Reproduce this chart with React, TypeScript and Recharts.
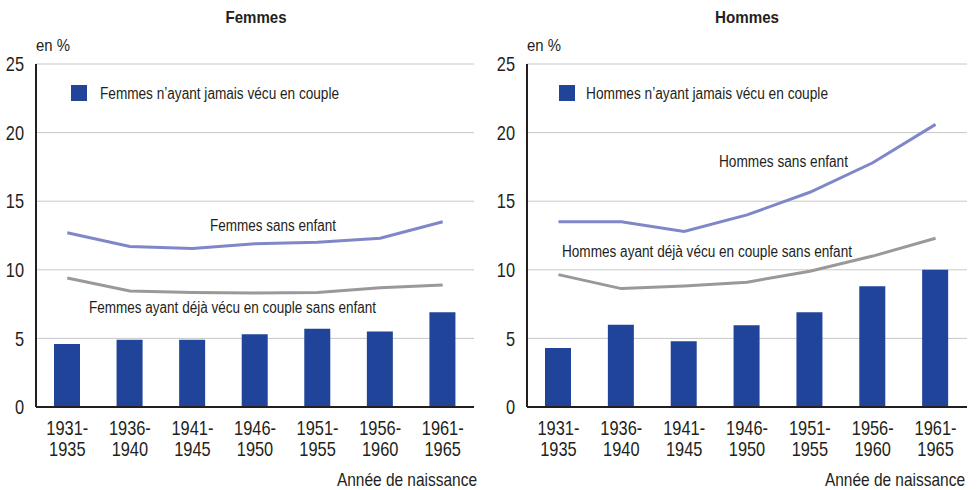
import React from 'react';
import {
  ComposedChart,
  Bar,
  Line,
  XAxis,
  YAxis,
  CartesianGrid,
  Legend,
} from 'recharts';

// Birth cohorts (x axis)
const cohorts = ['1931-1935', '1936-1940', '1941-1945', '1946-1950', '1951-1955', '1956-1960', '1961-1965'];

// Femmes
const femmesJamaisCouple = [4.6, 4.9, 4.9, 5.3, 5.7, 5.5, 6.9];
const femmesSansEnfant = [12.7, 11.7, 11.55, 11.9, 12.0, 12.3, 13.5];
const femmesDejaCoupleSansEnfant = [9.4, 8.45, 8.35, 8.3, 8.35, 8.7, 8.9];

// Hommes
const hommesJamaisCouple = [4.3, 6.0, 4.8, 5.95, 6.9, 8.8, 10.0];
const hommesSansEnfant = [13.5, 13.5, 12.8, 14.0, 15.65, 17.8, 20.6];
const hommesDejaCoupleSansEnfant = [9.65, 8.63, 8.82, 9.1, 9.9, 11.0, 12.3];

const yTicks = [0, 5, 10, 15, 20, 25];

// no condensed font installed, so text is squeezed horizontally
const FONT = '"Liberation Sans", Arial, sans-serif';
const SQUEEZE = 0.82;
const BAR_COLOR = '#1f4499';
const LINE_PURPLE = '#7f87c9';
const LINE_GRAY = '#999999';
const AXIS_COLOR = '#231f20';
const TEXT_COLOR = '#231f20';

const buildRows = (bars: number[], total: number[], past: number[]) =>
  cohorts.map((c, i) => ({ cohort: c, bar: bars[i], total: total[i], past: past[i] }));

const femmesData = buildRows(femmesJamaisCouple, femmesSansEnfant, femmesDejaCoupleSansEnfant);
const hommesData = buildRows(hommesJamaisCouple, hommesSansEnfant, hommesDejaCoupleSansEnfant);

const CohortTick = ({ x, y, payload }: any) => {
  const [a, b] = String(payload.value).split('-');
  return (
    <g transform={`translate(${x},${y}) scale(${SQUEEZE},1)`}>
      <text x={0} y={20} textAnchor="middle" fill={TEXT_COLOR} fontSize={20} fontFamily={FONT}>{a + '-'}</text>
      <text x={0} y={41} textAnchor="middle" fill={TEXT_COLOR} fontSize={20} fontFamily={FONT}>{b}</text>
    </g>
  );
};

const ValueTick = ({ x, y, payload }: any) => (
  <text
    transform={`translate(${x},${y}) scale(${SQUEEZE},1)`}
    textAnchor="end"
    dy="0.355em"
    fill={TEXT_COLOR}
    fontSize={20}
    fontFamily={FONT}
  >
    {payload.value}
  </text>
);

const makeLegend = (label: string, gap: number, textWidth: number) => () => (
  <svg width={360} height={22} style={{ display: 'block', overflow: 'visible' }}>
    <rect x={0} y={0} width={16} height={16} fill={BAR_COLOR} />
    <text x={gap} y={14} fontSize={16} fontFamily={FONT} fill={TEXT_COLOR} textLength={textWidth} lengthAdjust="spacingAndGlyphs">
      {label}
    </text>
  </svg>
);

interface PanelProps {
  data: any[];
  width: number;
  yAxisWidth: number;
  rightMargin: number;
  legendLabel: string;
  legendLeft: number;
  legendGap: number;
  legendTextWidth: number;
}

const Panel = ({ data, width, yAxisWidth, rightMargin, legendLabel, legendLeft, legendGap, legendTextWidth }: PanelProps) => (
  <ComposedChart
    width={width}
    height={490}
    data={data}
    margin={{ top: 64, right: rightMargin, bottom: 23, left: 0 }}
  >
    <CartesianGrid vertical={false} stroke="#c8c8c8" strokeWidth={1} />
    <XAxis
      dataKey="cohort"
      tick={<CohortTick />}
      tickLine={false}
      interval={0}
      height={60}
      axisLine={{ stroke: AXIS_COLOR, strokeWidth: 2 }}
    />
    <YAxis
      domain={[0, 25]}
      ticks={yTicks}
      width={yAxisWidth}
      tickLine={false}
      tickSize={6}
      tickMargin={6}
      axisLine={{ stroke: AXIS_COLOR, strokeWidth: 2 }}
      tick={<ValueTick />}
    />
    <Legend
      layout="vertical"
      align="center"
      verticalAlign="middle"
      content={makeLegend(legendLabel, legendGap, legendTextWidth)}
      wrapperStyle={{ position: 'absolute', top: 85, left: legendLeft, width: 'auto', height: 'auto' }}
    />
    <Bar dataKey="bar" fill={BAR_COLOR} barSize={26} isAnimationActive={false} />
    <Line dataKey="total" type="linear" stroke={LINE_PURPLE} strokeWidth={3} dot={false} isAnimationActive={false} />
    <Line dataKey="past" type="linear" stroke={LINE_GRAY} strokeWidth={3} dot={false} isAnimationActive={false} />
  </ComposedChart>
);

// free text around the charts, fitted to the width it takes in the reference
const Label = ({ t, x, y, w, size, bold = false, anchor = 'start' }: any) => (
  <text
    x={x}
    y={y}
    fontSize={size}
    fontWeight={bold ? 700 : 400}
    fontFamily={FONT}
    fill={TEXT_COLOR}
    textAnchor={anchor}
    textLength={w}
    lengthAdjust="spacingAndGlyphs"
  >
    {t}
  </text>
);

const AxisTitle = ({ right }: { right: number }) => (
  <text
    transform={`translate(${right},486) scale(0.86,1)`}
    textAnchor="end"
    fontSize={18}
    fontFamily={FONT}
    fill={TEXT_COLOR}
  >
    Année de naissance
  </text>
);

export default function App() {
  return (
    <div style={{ position: 'absolute', left: 0, top: 0, width: 977, height: 490, background: '#fff', overflow: 'hidden' }}>
      <div style={{ position: 'absolute', left: 0, top: 0 }}>
        <Panel
          data={femmesData}
          width={488}
          yAxisWidth={36}
          rightMargin={14}
          legendLabel="Femmes n’ayant jamais vécu en couple"
          legendLeft={71}
          legendGap={29}
          legendTextWidth={239}
        />
      </div>
      <div style={{ position: 'absolute', left: 488, top: 0 }}>
        <Panel
          data={hommesData}
          width={489}
          yAxisWidth={39}
          rightMargin={10}
          legendLabel="Hommes n’ayant jamais vécu en couple"
          legendLeft={71}
          legendGap={27}
          legendTextWidth={242}
        />
      </div>

      <svg width={977} height={490} style={{ position: 'absolute', left: 0, top: 0, pointerEvents: 'none' }}>
        {/* titles */}
        <Label t="Femmes" x={256} y={23} w={61} size={17} bold anchor="middle" />
        <Label t="Hommes" x={747} y={23} w={64} size={17} bold anchor="middle" />

        {/* unit */}
        <Label t="en %" x={36} y={51} w={34} size={17} />
        <Label t="en %" x={527} y={51} w={34} size={17} />

        {/* series annotations */}
        <Label t="Femmes sans enfant" x={210} y={231} w={126} size={16} />
        <Label t="Femmes ayant déjà vécu en couple sans enfant" x={89} y={313} w={287} size={16} />
        <Label t="Hommes sans enfant" x={719} y={167} w={129} size={16} />
        <Label t="Hommes ayant déjà vécu en couple sans enfant" x={562} y={257} w={290} size={16} />

        {/* x axis title */}
        <AxisTitle right={477} />
        <AxisTitle right={965} />
      </svg>
    </div>
  );
}
